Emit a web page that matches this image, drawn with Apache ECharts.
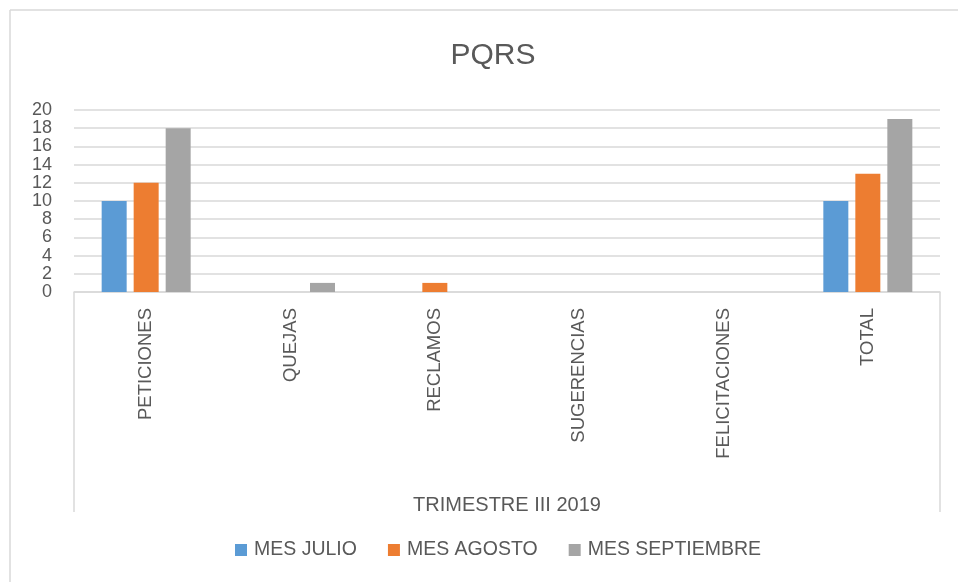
<!DOCTYPE html>
<html>
<head>
<meta charset="utf-8">
<script src="https://cdn.jsdelivr.net/npm/echarts@6/dist/echarts.min.js"></script>
<style>
html,body{margin:0;padding:0;background:#fff;}
#chart{width:958px;height:582px;}
</style>
</head>
<body>
<div id="chart"></div>
<script>
const categories = ['PETICIONES', 'QUEJAS', 'RECLAMOS', 'SUGERENCIAS', 'FELICITACIONES', 'TOTAL'];
const julio = [10, 0, 0, 0, 0, 10];
const agosto = [12, 0, 1, 0, 0, 13];
const septiembre = [18, 1, 0, 0, 0, 19];
const seriesNames = ['MES JULIO', 'MES AGOSTO', 'MES SEPTIEMBRE'];
const groupLabel = 'TRIMESTRE III 2019';
const titleText = 'PQRS';

const FONT = '"Liberation Sans", Arial, sans-serif';
const TXT = '#595959';
const chart = echarts.init(document.getElementById('chart'));
const colors = ['#5B9BD5', '#ED7D31', '#A5A5A5'];

function bar(name, data, color) {
  return {
    name: name, type: 'bar', data: data,
    barWidth: 25, barGap: '28%',
    itemStyle: { color: color }
  };
}

chart.setOption({
  animation: false,
  textStyle: { fontFamily: FONT },
  title: {
    text: titleText, left: 488, textAlign: 'center', top: 36,
    textStyle: { fontFamily: FONT, fontSize: 30, fontWeight: 'normal', color: TXT }
  },
  grid: { left: 74, right: 18, top: 110, bottom: 290, containLabel: false },
  legend: {
    top: 535, left: 230,
    itemWidth: 12, itemHeight: 12, itemGap: 31,
    icon: 'rect',
    textStyle: { fontFamily: FONT, fontSize: 19.5, color: TXT, padding: [0, 0, 0, 2] },
    data: seriesNames
  },
  xAxis: {
    type: 'category', data: categories,
    name: groupLabel, nameLocation: 'middle', nameGap: 203,
    nameTextStyle: { fontFamily: FONT, fontSize: 20, color: TXT },
    axisLine: { lineStyle: { color: '#D9D9D9', width: 1.5 } },
    axisTick: { show: false },
    axisLabel: { rotate: 90, margin: 16, fontFamily: FONT, fontSize: 18.5, color: TXT, interval: 0 }
  },
  yAxis: {
    type: 'value', min: 0, max: 20, interval: 2,
    axisLine: { show: false }, axisTick: { show: false },
    axisLabel: { margin: 22, fontFamily: FONT, fontSize: 18, color: TXT },
    splitLine: { lineStyle: { color: '#D9D9D9', width: 1.5 } }
  },
  series: [
    bar(seriesNames[0], julio, colors[0]),
    bar(seriesNames[1], agosto, colors[1]),
    bar(seriesNames[2], septiembre, colors[2])
  ]
});

// frame lines of the multi-level category axis and chart border
const y0 = chart.convertToPixel({ yAxisIndex: 0 }, 0);
const xl = 74, xr = 958 - 18;
chart.setOption({
  graphic: [
    { type: 'line', shape: { x1: xl, y1: y0, x2: xl, y2: 512 }, style: { stroke: '#D9D9D9', lineWidth: 1.5 } },
    { type: 'line', shape: { x1: xr, y1: y0, x2: xr, y2: 512 }, style: { stroke: '#D9D9D9', lineWidth: 1.5 } },
    { type: 'line', shape: { x1: 10, y1: 10, x2: 958, y2: 10 }, style: { stroke: '#D9D9D9', lineWidth: 1.5 } },
    { type: 'line', shape: { x1: 10, y1: 10, x2: 10, y2: 582 }, style: { stroke: '#D9D9D9', lineWidth: 1.5 } }
  ]
});
</script>
</body>
</html>
